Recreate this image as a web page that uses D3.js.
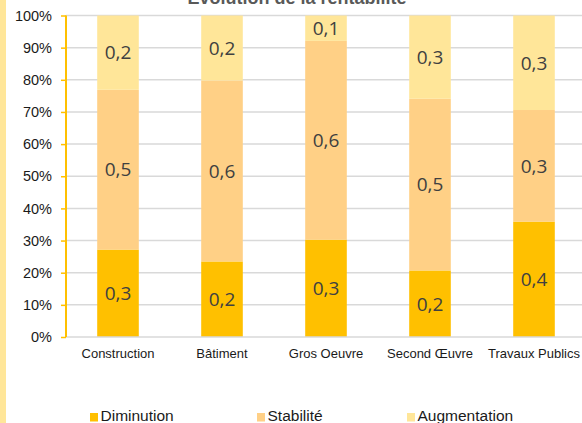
<!DOCTYPE html>
<html>
<head>
<meta charset="utf-8">
<script src="https://cdn.jsdelivr.net/npm/d3@7/dist/d3.min.js"></script>
<style>
  html, body { margin: 0; padding: 0; background: #fff; }
  svg { display: block; }
</style>
</head>
<body>
<svg id="chart" width="582" height="423"></svg>
<script>
// Share of firms per sector by profitability trend
const categories = ["Construction", "Bâtiment", "Gros Oeuvre", "Second Œuvre", "Travaux Publics"];
const seriesNames = ["Diminution", "Stabilité", "Augmentation"];
const diminution   = [0.272, 0.235, 0.303, 0.207, 0.359];
const stabilite    = [0.497, 0.563, 0.618, 0.534, 0.347];
const augmentation = [0.231, 0.202, 0.079, 0.259, 0.294];
const yTicks = [0, 0.1, 0.2, 0.3, 0.4, 0.5, 0.6, 0.7, 0.8, 0.9, 1.0];
const title = "Évolution de la rentabilité";

const colors = { "Diminution": "#FFC000", "Stabilité": "#FFD086", "Augmentation": "#FFE699" };

const rows = categories.map((c, i) => ({
  cat: c,
  "Diminution": diminution[i],
  "Stabilité": stabilite[i],
  "Augmentation": augmentation[i]
}));

const svg = d3.select("#chart");
const W = 582, H = 423;

// side accent strip
svg.append("rect").attr("x", 0).attr("y", 0).attr("width", 6).attr("height", H).attr("fill", "#FFE699");

// title (sits mostly above the frame)
svg.append("text")
  .attr("x", 297).attr("y", 3.5)
  .attr("text-anchor", "middle")
  .attr("font-family", "Liberation Sans, Arial, sans-serif")
  .attr("font-weight", "bold").attr("font-size", 18)
  .attr("fill", "#595959")
  .text(title);

const x = d3.scaleBand().domain(categories).range([66, 586]).paddingInner(0.6).paddingOuter(0.3);
const y = d3.scaleLinear().domain([0, 1]).range([337, 15.5]);

// gridlines
svg.append("g").selectAll("line").data(yTicks.slice(1)).join("line")
  .attr("x1", 66).attr("x2", W)
  .attr("y1", d => y(d)).attr("y2", d => y(d))
  .attr("stroke", "#D9D9D9").attr("stroke-width", 1.5);

// stacked bars
const stack = d3.stack().keys(seriesNames);
const layers = stack(rows);
const pct = d3.format(".1f");
const fmt = v => pct(v).replace(".", ",");

const g = svg.append("g");
layers.forEach(layer => {
  const key = layer.key;
  g.append("g").selectAll("rect").data(layer).join("rect")
    .attr("x", d => x(d.data.cat))
    .attr("width", x.bandwidth())
    .attr("y", d => y(d[1]))
    .attr("height", d => y(d[0]) - y(d[1]))
    .attr("fill", colors[key]);
  g.append("g").selectAll("text").data(layer).join("text")
    .attr("x", d => x(d.data.cat) + x.bandwidth() / 2)
    .attr("y", d => (y(d[0]) + y(d[1])) / 2)
    .attr("dy", "0.36em")
    .attr("text-anchor", "middle")
    .attr("font-family", "Open Sans, sans-serif")
    .attr("font-size", 19)
    .attr("fill", "#404040")
    .text(d => fmt(d.data[key]));
});

// x axis baseline
svg.append("line").attr("x1", 66).attr("x2", W).attr("y1", y(0)).attr("y2", y(0))
  .attr("stroke", "#D9D9D9").attr("stroke-width", 1.5);

// y axis
const yAxis = d3.axisLeft(y).tickValues(yTicks).tickFormat(d3.format(".0%")).tickSize(5).tickPadding(9);
const ya = svg.append("g").attr("transform", "translate(66,0)").call(yAxis);
ya.select(".domain").attr("stroke", "#FFC000").attr("stroke-width", 2).attr("d", `M0,${y(1)}V${y(0)}`);
ya.selectAll(".tick line").attr("stroke", "#FFC000").attr("stroke-width", 1.5);
ya.selectAll(".tick text")
  .attr("font-family", "Liberation Sans, Arial, sans-serif")
  .attr("font-size", 14.5).attr("fill", "#1a1a1a");

// x axis labels
const xAxis = d3.axisBottom(x).tickSize(0).tickPadding(12);
const xa = svg.append("g").attr("transform", `translate(0,${y(0)})`).call(xAxis);
xa.select(".domain").remove();
xa.selectAll(".tick text")
  .attr("font-family", "Liberation Sans, Arial, sans-serif")
  .attr("font-size", 13).attr("fill", "#1a1a1a");

// legend
const legendX = [90, 257, 407];
const lg = svg.append("g").selectAll("g").data(seriesNames).join("g")
  .attr("transform", (d, i) => `translate(${legendX[i]},413)`);
lg.append("rect").attr("width", 8).attr("height", 8.5).attr("fill", d => colors[d]);
lg.append("text").attr("x", 10.5).attr("y", 8)
  .attr("font-family", "Liberation Sans, Arial, sans-serif")
  .attr("font-size", 15.5).attr("fill", "#1a1a1a")
  .text(d => d);
</script>
</body>
</html>
